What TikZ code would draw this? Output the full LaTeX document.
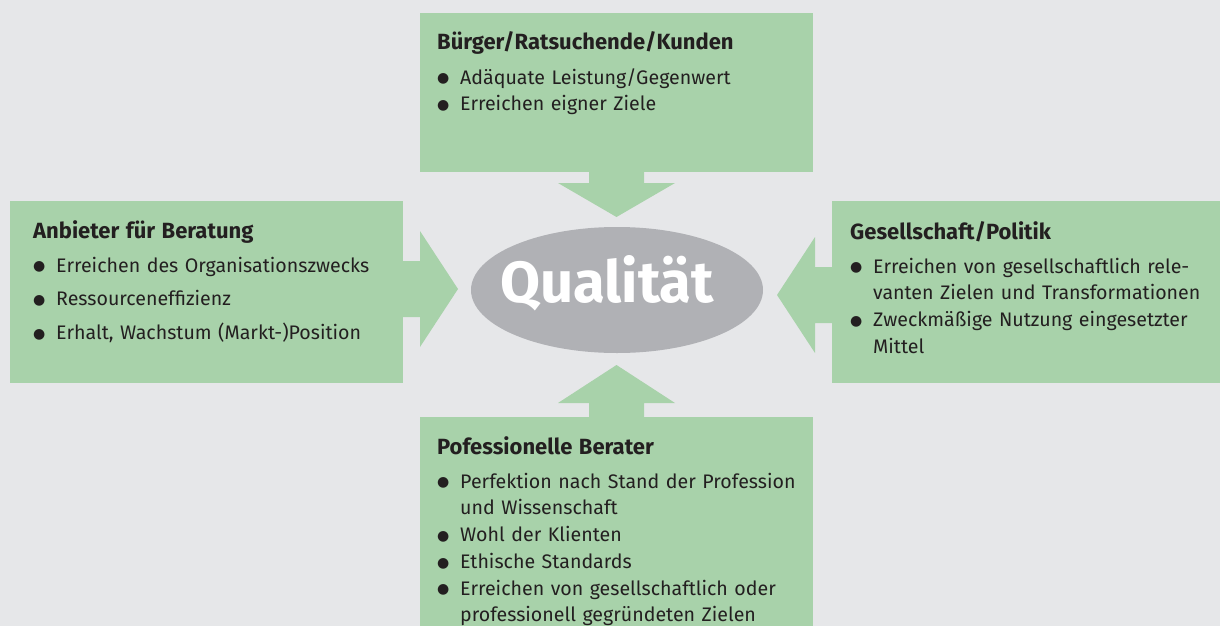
\documentclass[tikz,border=0pt]{standalone}
\usepackage{fontspec}
\setmainfont{Fira Sans}
\newfontfamily\symbfont{DejaVu Sans}
\usetikzlibrary{calc,shapes.geometric}

\definecolor{hgrund}{RGB}{230,231,233}
\definecolor{gruen}{RGB}{168,210,170}
\definecolor{ovalgrau}{RGB}{176,177,181}
\definecolor{schrift}{RGB}{35,31,32}

\newcommand{\kopf}[1]{{\fontsize{22}{26.7}\selectfont\bfseries #1}\par\vspace{7.5pt}}
\newcommand{\punkt}[2][0pt]{\vspace{#1}\hangindent=23pt\hangafter=1\noindent
  \makebox[23pt][l]{\raisebox{1.3pt}{\symbfont\fontsize{14}{14}\selectfont ●}}#2\par}

\tikzset{
  feld/.style={fill=gruen, draw=none, inner sep=0pt, outer sep=0pt, anchor=north west},
  feldtext/.style={anchor=base west, text width=370pt, inner sep=0pt,
    text=schrift, font=\fontsize{19.6}{26.7}\selectfont},
  pfeil/.style={fill=gruen, draw=none},
}

\begin{document}
\begin{tikzpicture}[x=1pt,y=-1pt]
  \useasboundingbox (0,0) rectangle (1220,626);
  \fill[hgrund] (0,0) rectangle (1220,626);

  % four fields
  \node[feld, minimum width=393pt, minimum height=159pt] (buerger) at (420,13) {};
  \node[feld, minimum width=393pt, minimum height=182pt] (anbieter) at (10,201) {};
  \node[feld, minimum width=388pt, minimum height=182pt] (gesellschaft) at (832,201) {};
  \node[feld, minimum width=393pt, minimum height=209pt] (berater) at (420,417) {};

  % center
  \node[ellipse, fill=ovalgrau, inner sep=0pt, minimum width=292pt, minimum height=126pt] (qual) at (617,290) {};
  \node[anchor=base, text=white, inner sep=0pt, font=\fontsize{58}{58}\selectfont\bfseries] (qualtxt)
    at ($(qual.center)+(-10,12)$) {Qualität};

  % block arrows towards the center
  \fill[pfeil, shift={(buerger.south)}] (-27.5,-1) -- (-27.5,11) -- (-58.5,11) -- (0,45) -- (58.5,11) -- (27.5,11) -- (27.5,-1) -- cycle;
  \fill[pfeil, shift={(berater.north)}, rotate=180] (-27.5,-1) -- (-27.5,14) -- (-58.5,14) -- (0,52) -- (58.5,14) -- (27.5,14) -- (27.5,-1) -- cycle;
  \fill[pfeil, shift={($(anbieter.east)+(0,-3)$)}, rotate=90] (-28,-1) -- (-28,17) -- (-58,17) -- (0,55) -- (58,17) -- (28,17) -- (28,-1) -- cycle;
  \fill[pfeil, shift={($(gesellschaft.west)+(0,3)$)}, rotate=-90] (-28,-1) -- (-28,17) -- (-58,17) -- (0,55) -- (58,17) -- (28,17) -- (28,-1) -- cycle;

  % texts
  \node[feldtext] (buergertxt) at ($(buerger.north west)+(17,37)$) {%
    \kopf{Bürger/Ratsuchende/Kunden}
    \punkt{Adäquate Leistung/Gegenwert}
    \punkt{Erreichen eigner Ziele}};
  \node[feldtext] (anbietertxt) at ($(anbieter.north west)+(23,37)$) {%
    \kopf{Anbieter für Beratung}
    \punkt{Erreichen des Organisationszwecks}
    \punkt[7pt]{Ressourceneffizienz}
    \punkt[7pt]{Erhalt, Wachstum (Markt-)Position}};
  \node[feldtext, text width=360pt] (gesellschafttxt) at ($(gesellschaft.north west)+(18,38)$) {%
    \kopf{Gesellschaft/Politik}
    \punkt{Erreichen von gesellschaftlich rele-\newline vanten Zielen und Transformationen}
    \punkt{Zweckmäßige Nutzung eingesetzter\newline Mittel}};
  \node[feldtext] (beratertxt) at ($(berater.north west)+(17,37)$) {%
    \kopf{Pofessionelle Berater}
    \punkt{Perfektion nach Stand der Profession\newline und Wissenschaft}
    \punkt{Wohl der Klienten}
    \punkt{Ethische Standards}
    \punkt{Erreichen von gesellschaftlich oder\newline professionell gegründeten Zielen}};
\end{tikzpicture}
\end{document}
